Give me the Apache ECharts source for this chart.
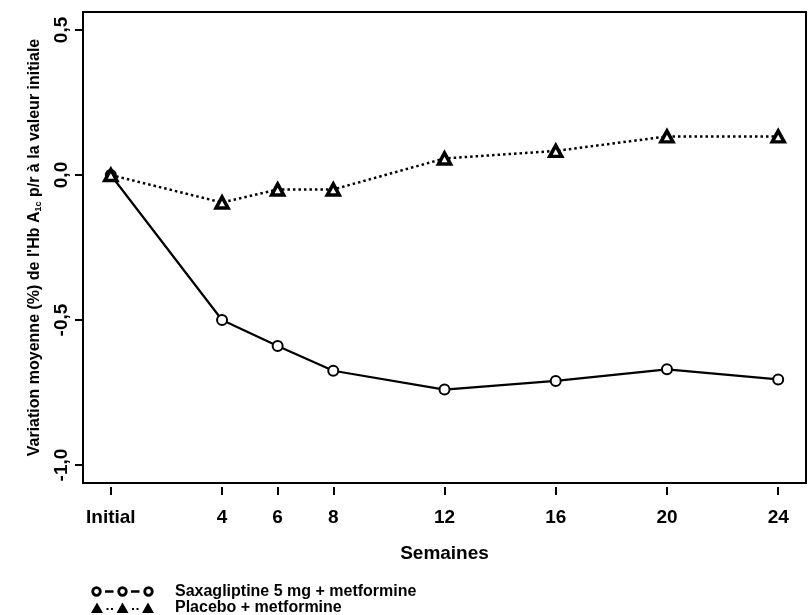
<!DOCTYPE html>
<html>
<head>
<meta charset="utf-8">
<script src="https://cdn.jsdelivr.net/npm/echarts@6/dist/echarts.min.js"></script>
<style>
html,body{margin:0;padding:0;background:#fff;}
#chart{width:809px;height:615px;}
</style>
</head>
<body>
<div id="chart"></div>
<script>
// Data
const weeks = [0, 4, 6, 8, 12, 16, 20, 24];
const saxaName = 'Saxagliptine 5 mg + metformine';
const placeboName = 'Placebo + metformine';
const saxaValues = [0, -0.50, -0.59, -0.675, -0.74, -0.71, -0.67, -0.705];
const placeboValues = [0, -0.095, -0.05, -0.05, 0.057, 0.083, 0.133, 0.133];
const yTickValues = [-1, -0.5, 0, 0.5];
const xTickValues = weeks;
const xAxisTitle = 'Semaines';
const yAxisTitle = "Variation moyenne (%) de l'Hb A{sub|1c} p/r à la valeur initiale";

const FONT = "'Liberation Sans', Arial, sans-serif";
const chart = echarts.init(document.getElementById('chart'), null, {renderer: 'canvas'});

function ring(cx) {
  return 'M' + (cx - 5.2) + ',5.5 a5.2,5.2 0 1,0 10.4,0 a5.2,5.2 0 1,0 -10.4,0 Z ' +
         'M' + (cx - 2.4) + ',5.5 a2.4,2.4 0 1,1 4.8,0 a2.4,2.4 0 1,1 -4.8,0 Z ';
}
function tri(cx) {
  return 'M' + (cx - 6) + ',11 L' + cx + ',0.5 L' + (cx + 6) + ',11 Z ' +
         'M' + (cx - 1.2) + ',9 L' + cx + ',7 L' + (cx + 1.2) + ',9 Z ';
}
function rect(x, y, w, h) {
  return 'M' + x + ',' + y + ' L' + (x + w) + ',' + y + ' L' + (x + w) + ',' + (y + h) + ' L' + x + ',' + (y + h) + ' Z ';
}
const corners = 'M0,0 L0.01,0 L0,0.01 Z M63,11 L62.99,11 L63,10.99 Z';
const circleIcon = 'path://' + ring(5.5) + ring(31.5) + ring(57.5) + rect(14, 4.2, 8.5, 2.6) + rect(40, 4.2, 8.5, 2.6) + corners;
const triIcon = 'path://' + tri(6) + tri(31.5) + tri(57) + rect(15.5, 6, 2, 2) + rect(20, 6, 2, 2) + rect(41, 6, 2, 2) + rect(45.5, 6, 2, 2) + corners;

const legendText = {fontFamily: FONT, fontWeight: 'bold', fontSize: 16, lineHeight: 16, color: '#000', padding: [0, 0, 0, 16]};

const option = {
  animation: false,
  backgroundColor: '#fff',
  textStyle: {fontFamily: FONT},
  grid: {
    left: 83, right: 3, top: 12, bottom: 132,
    show: true, borderColor: '#000', borderWidth: 2, backgroundColor: 'transparent',
    containLabel: false
  },
  legend: [
    {
      left: 91, top: 583.5, padding: 0,
      itemWidth: 63, itemHeight: 11,
      selectedMode: false,
      textStyle: legendText,
      data: [{name: saxaName, icon: circleIcon, itemStyle: {color: '#000', borderWidth: 0}}]
    },
    {
      left: 91, top: 599.5, padding: 0,
      itemWidth: 63, itemHeight: 11,
      selectedMode: false,
      textStyle: legendText,
      data: [{name: placeboName, icon: triIcon, itemStyle: {color: '#000', borderWidth: 0}}]
    }
  ],
  xAxis: {
    type: 'value',
    min: -1, max: 25,
    offset: 4,
    splitLine: {show: false},
    axisLine: {show: false, onZero: false},
    axisTick: {show: true, length: 8, customValues: xTickValues, lineStyle: {color: '#000', width: 2}},
    axisLabel: {
      customValues: xTickValues,
      margin: 21,
      color: '#000', fontFamily: FONT, fontWeight: 'bold', fontSize: 19,
      formatter: v => v === 0 ? 'Initial' : String(v)
    },
    name: xAxisTitle,
    nameLocation: 'middle',
    nameGap: 57,
    nameTextStyle: {color: '#000', fontFamily: FONT, fontWeight: 'bold', fontSize: 19}
  },
  yAxis: {
    type: 'value',
    min: -1.062, max: 0.562,
    splitLine: {show: false},
    axisLine: {show: false, onZero: false},
    axisTick: {show: true, length: 8, customValues: yTickValues, lineStyle: {color: '#000', width: 2}},
    axisLabel: {
      customValues: yTickValues,
      rotate: 90,
      margin: 12,
      color: '#000', fontFamily: FONT, fontWeight: 'bold', fontSize: 19,
      formatter: v => v.toFixed(1).replace('.', ',')
    },
    name: yAxisTitle,
    nameLocation: 'middle',
    nameGap: 40,
    nameTextStyle: {
      color: '#000', fontFamily: FONT, fontWeight: 'bold', fontSize: 16, lineHeight: 16,
      rich: {
        sub: {fontFamily: FONT, fontWeight: 'bold', fontSize: 9, color: '#000', verticalAlign: 'bottom', padding: [10, 0, 0, 0]}
      }
    }
  },
  series: [
    {
      name: saxaName,
      type: 'line',
      data: weeks.map((w, i) => [w, saxaValues[i]]),
      symbol: 'circle',
      symbolSize: 10,
      lineStyle: {color: '#000', width: 2.2, type: 'solid'},
      itemStyle: {color: '#fff', borderColor: '#000', borderWidth: 2},
      z: 3
    },
    {
      name: placeboName,
      type: 'line',
      data: weeks.map((w, i) => [w, placeboValues[i]]),
      symbol: 'triangle',
      symbolSize: [12, 11],
      lineStyle: {color: '#000', width: 2.5, type: [2.5, 3]},
      itemStyle: {color: '#fff', borderColor: '#000', borderWidth: 3.5},
      z: 4
    }
  ]
};
chart.setOption(option);
</script>
</body>
</html>
